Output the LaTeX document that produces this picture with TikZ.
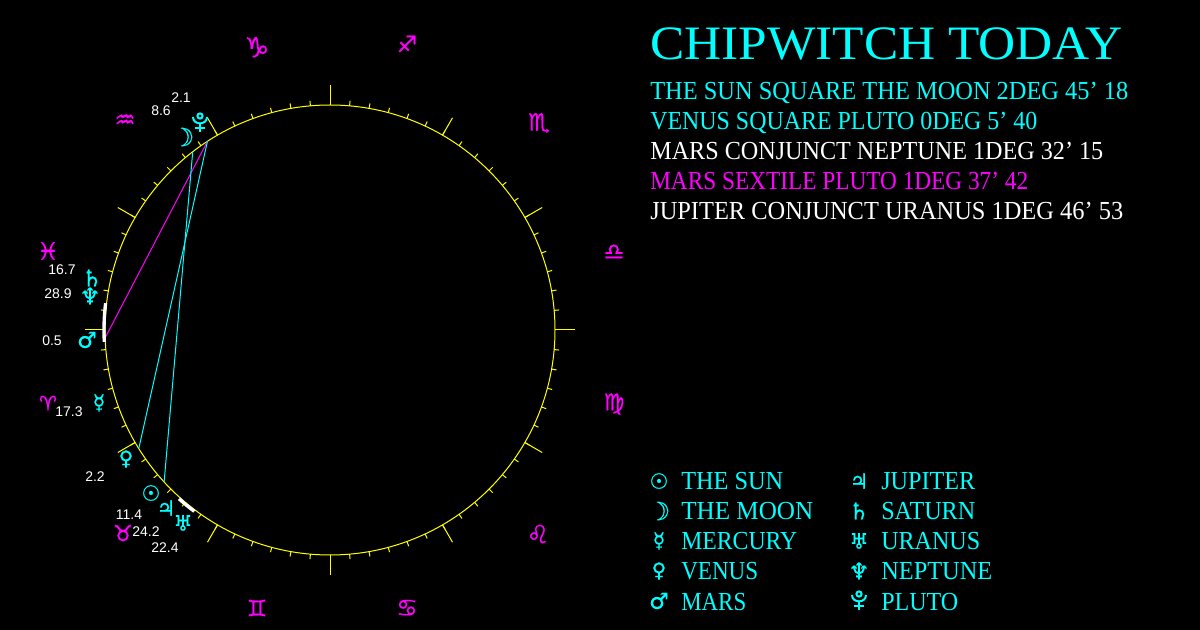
\documentclass[tikz,border=0pt]{standalone}
\usepackage{graphicx}
\usepackage{fontspec}
\setmainfont{Liberation Serif}
\newfontfamily\labelfont{Liberation Sans}
\newfontfamily\signfont[FakeBold=0.6]{DejaVu Sans}
\usetikzlibrary{calc}
\definecolor{chipcyan}{RGB}{0,255,255}
\definecolor{chipmagenta}{RGB}{255,0,255}
\definecolor{chipyellow}{RGB}{255,255,0}
\newlength{\px}
\setlength{\px}{0.75pt}
\newcommand{\fitcaps}[2]{\resizebox{#1\px}{\height}{#2}}
\newcommand{\signsize}[1]{\fontsize{#1}{#1}\selectfont}
\tikzset{
  headline/.style={anchor=base west,inner sep=0pt,font=\fontsize{19.5}{20}\selectfont},
  titleline/.style={anchor=base west,inner sep=0pt,text=chipcyan,font=\fontsize{36}{38}\selectfont},
  legendline/.style={anchor=base west,inner sep=0pt,text=chipcyan,font=\fontsize{19.5}{20}\selectfont},
  planetsign/.style={inner sep=0pt,text=chipcyan,font=\signfont},
  zodiacsign/.style={inner sep=0pt,text=chipmagenta,font=\signfont},
  degreelabel/.style={inner sep=0pt,text=white,font=\labelfont\fontsize{10.5}{11}\selectfont},
  wheelline/.style={chipyellow,line width=0.75pt},
  aspectline/.style={line width=0.75pt},
  plutosign/.pic={
    \draw[chipcyan,line width=1.5pt] (-7,-6) .. controls (-7,2.5) and (7,2.5) .. (7,-6);
    \draw[chipcyan,line width=1.5pt] (0,-7) circle[radius=2.6];
    \draw[chipcyan,line width=1.5pt] (0,0.5) -- (0,9.5) (-5,5) -- (5,5);
  }
}
\begin{document}
\begin{tikzpicture}[x=0.75pt,y=-0.75pt]
  \fill[black] (0,0) rectangle (1200,630);
  \useasboundingbox (0,0) rectangle (1200,630);

  \begin{scope}[shift={(330,330)}]
    \draw[wheelline] (0,0) circle[radius=225];
    \foreach \a in {0,5,...,355} {\draw[wheelline] (\a:225) -- (\a:230);}
    \foreach \a in {0,30,...,330} {\draw[wheelline] (\a:225) -- (\a:245);}
    \coordinate (pluto) at (237:225);
    \coordinate (moon) at (232.4:225);
    \coordinate (mars) at (178:225);
    \coordinate (venus) at (148.2:225);
    \coordinate (sun) at (137.5:225);
    \draw[aspectline,chipmagenta] (mars) -- (pluto);
    \draw[aspectline,chipcyan] (sun) -- (moon);
    \draw[aspectline,chipcyan] (venus) -- (pluto);
    \draw[white,line width=2.5pt] (186.8:226) arc[start angle=186.8,end angle=177,radius=226];
    \draw[white,line width=2.5pt] (131.8:226.5) arc[start angle=131.8,end angle=126.8,radius=226.5];
  \end{scope}

  \foreach \x/\y/\s/\z/\n in {
    257/47/♑/21/capricorn,407/44/♐/17/sagittarius,539/123/♏/18/scorpio,614/252/♎/17/libra,
    614/404/♍/17.5/virgo,538/534/♌/19/leo,407/608/♋/18/cancer,257/608/♊/17/gemini,
    123/533/♉/17/taurus,48/403/♈/15/aries,48/251/♓/18/pisces,125/121/♒/17.5/aquarius} {
    \node[zodiacsign] (\n) at (\x,\y) {\signsize{\z}\s};
  }

  \foreach \x/\y/\s/\z/\n in {
    183/137/☽/19/moonsign,92/278/♄/17/saturnsign,90/296/♆/17/neptunesign,87/340/♂/16.5/marssign,
    99/403/☿/15.5/mercurysign,126/459/♀/15/venussign,151/493/☉/16/sunsign,166/508/♃/15.5/jupitersign,
    183/523/♅/16/uranussign,659/481/☉/16/sunkey,659/511/☽/19/moonkey,659/541/☿/15.5/mercurykey,
    659/571/♀/15/venuskey,659/601/♂/16.5/marskey,859/481/♃/15.5/jupiterkey,859/511/♄/17/saturnkey,
    859/541/♅/16/uranuskey,859/571/♆/17/neptunekey} {
    \node[planetsign] (\n) at (\x,\y) {\signsize{\z}\s};
  }
  \pic at (200,123) {plutosign};
  \pic at (859,601) {plutosign};

  \foreach \x/\y/\t/\n in {
    181/98/2.1/plutodeg,161/111/8.6/moondeg,62/270/16.7/saturndeg,58/294/28.9/neptunedeg,
    52/341/0.5/marsdeg,69/412/17.3/mercurydeg,95/477/2.2/venusdeg,129/515/11.4/sundeg,
    146/532/24.2/jupiterdeg,165/548/22.4/uranusdeg} {
    \node[degreelabel] (\n) at (\x,\y) {\t};
  }

  \node[titleline] (title) at (650,60) {\fitcaps{472}{CHIPWITCH TODAY}};
  \node[headline,text=chipcyan] (line1) at (650,100) {\fitcaps{478}{THE SUN SQUARE THE MOON 2DEG 45' 18}};
  \node[headline,text=chipcyan] (line2) at (650,130) {\fitcaps{387}{VENUS SQUARE PLUTO 0DEG 5' 40}};
  \node[headline,text=white] (line3) at (650,160) {\fitcaps{453}{MARS CONJUNCT NEPTUNE 1DEG 32' 15}};
  \node[headline,text=chipmagenta] (line4) at (650,190) {\fitcaps{378}{MARS SEXTILE PLUTO 1DEG 37' 42}};
  \node[headline,text=white] (line5) at (650,220) {\fitcaps{473}{JUPITER CONJUNCT URANUS 1DEG 46' 53}};

  \foreach \x/\y/\w/\t/\n in {
    681/490/102/THE SUN/sunname,681/520/132/THE MOON/moonname,681/550/116/MERCURY/mercuryname,
    681/580/77/VENUS/venusname,681/610/65/MARS/marsname,881/490/94/JUPITER/jupitername,
    881/520/94/SATURN/saturnname,881/550/99/URANUS/uranusname,881/580/111/NEPTUNE/neptunename,
    881/610/77/PLUTO/plutoname} {
    \node[legendline] (\n) at (\x,\y) {\fitcaps{\w}{\t}};
  }
\end{tikzpicture}
\end{document}
